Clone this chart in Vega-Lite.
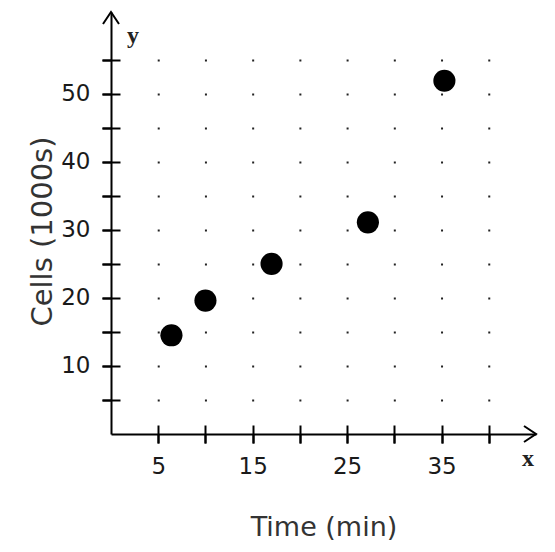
{
  "$schema": "https://vega.github.io/schema/vega-lite/v6.json",
  "width": 425,
  "height": 422,
  "autosize": "none",
  "padding": {"left": 111, "top": 12, "right": 19, "bottom": 118},
  "background": "white",
  "config": {"view": {"stroke": null}},
  "datasets": {
    "cells": [
      {"time": 6.4, "cells": 14.5},
      {"time": 10.0, "cells": 19.6},
      {"time": 17.0, "cells": 25.0},
      {"time": 27.2, "cells": 31.1},
      {"time": 35.3, "cells": 51.9}
    ]
  },
  "resolve": {"axis": {"x": "independent", "y": "independent"}},
  "layer": [
    {
      "layer": [
        {
          "data": {"name": "cells"},
          "mark": {"type": "point", "filled": true, "color": "black", "size": 490, "opacity": 1},
          "encoding": {
            "x": {
              "field": "time", "type": "quantitative",
              "scale": {"domain": [0, 45], "nice": false, "zero": false},
              "axis": {
                "orient": "bottom",
                "values": [5, 10, 15, 20, 25, 30, 35, 40],
                "labelExpr": "datum.value % 10 === 5 ? datum.label : ''",
                "labelOverlap": false,
                "labelFlush": false,
                "title": "Time (min)",
                "tickSize": 9, "tickWidth": 2, "tickColor": "black",
                "domainColor": "black", "domainWidth": 2,
                "labelFont": "DejaVu Sans", "labelFontSize": 23, "labelColor": "#1a1a1a", "labelPadding": 12,
                "titleFont": "DejaVu Sans", "titleFontSize": 27, "titleFontWeight": "normal", "titleColor": "#333",
                "titleY": 93, "titleBaseline": "middle",
                "grid": false
              }
            },
            "y": {
              "field": "cells", "type": "quantitative",
              "scale": {"domain": [0, 62], "nice": false, "zero": false},
              "axis": {
                "orient": "left",
                "values": [5, 10, 15, 20, 25, 30, 35, 40, 45, 50, 55],
                "labelExpr": "datum.value % 10 === 0 ? datum.label : ''",
                "labelOverlap": false,
                "labelFlush": false,
                "title": "Cells (1000s)",
                "tickSize": 9, "tickWidth": 2, "tickColor": "black",
                "domainColor": "black", "domainWidth": 2,
                "labelFont": "DejaVu Sans", "labelFontSize": 23, "labelColor": "#1a1a1a", "labelPadding": 12,
                "titleFont": "DejaVu Sans", "titleFontSize": 29, "titleFontWeight": "normal", "titleColor": "#333",
                "titleX": -69, "titleY": 219, "titleAngle": -90, "titleBaseline": "middle",
                "grid": true, "gridColor": "#222", "gridWidth": 2, "gridOpacity": 1,
                "gridDash": [0, 46.22, 2, 45.22, 2, 45.22, 2, 45.22, 2, 45.22, 2, 45.22, 2, 45.22, 2, 45.22, 2, 1000]
              }
            }
          }
        },
        {
          "data": {"values": [
            {"time": 45, "cells": 0, "dir": 0},
            {"time": 0, "cells": 62, "dir": -90}
          ]},
          "mark": {"type": "point", "shape": "M-1.5,-1L0,0L-1.5,1", "filled": false, "color": "black", "strokeWidth": 2, "size": 256, "opacity": 1},
          "encoding": {
            "x": {"field": "time", "type": "quantitative", "scale": {"domain": [0, 45], "nice": false, "zero": false}},
            "y": {"field": "cells", "type": "quantitative", "scale": {"domain": [0, 62], "nice": false, "zero": false}},
            "angle": {"field": "dir", "type": "quantitative", "scale": null}
          }
        },
        {
          "data": {"values": [
            {"time": 44.15, "cells": -3.6, "label": "x"},
            {"time": 2.33, "cells": 58.5, "label": "y"}
          ]},
          "mark": {"type": "text", "font": "Liberation Serif", "fontWeight": "bold", "fontSize": 24, "color": "#222", "baseline": "middle", "align": "center"},
          "encoding": {
            "x": {"field": "time", "type": "quantitative", "scale": {"domain": [0, 45], "nice": false, "zero": false}},
            "y": {"field": "cells", "type": "quantitative", "scale": {"domain": [0, 62], "nice": false, "zero": false}},
            "text": {"field": "label"}
          }
        }
      ]
    },
    {
      "data": {"name": "cells"},
      "mark": {"type": "point", "opacity": 0},
      "encoding": {
        "x": {
          "field": "time", "type": "quantitative",
          "scale": {"domain": [0, 45], "nice": false, "zero": false},
          "axis": {
            "orient": "bottom", "offset": -9,
            "values": [5, 10, 15, 20, 25, 30, 35, 40],
            "tickSize": 18, "tickWidth": 2, "tickColor": "black",
            "domain": false, "labels": false, "title": null, "grid": false
          }
        },
        "y": {
          "field": "cells", "type": "quantitative",
          "scale": {"domain": [0, 62], "nice": false, "zero": false},
          "axis": {
            "orient": "left", "offset": -9,
            "values": [5, 10, 15, 20, 25, 30, 35, 40, 45, 50, 55],
            "tickSize": 18, "tickWidth": 2, "tickColor": "black",
            "domain": false, "labels": false, "title": null, "grid": false
          }
        }
      }
    }
  ]
}
